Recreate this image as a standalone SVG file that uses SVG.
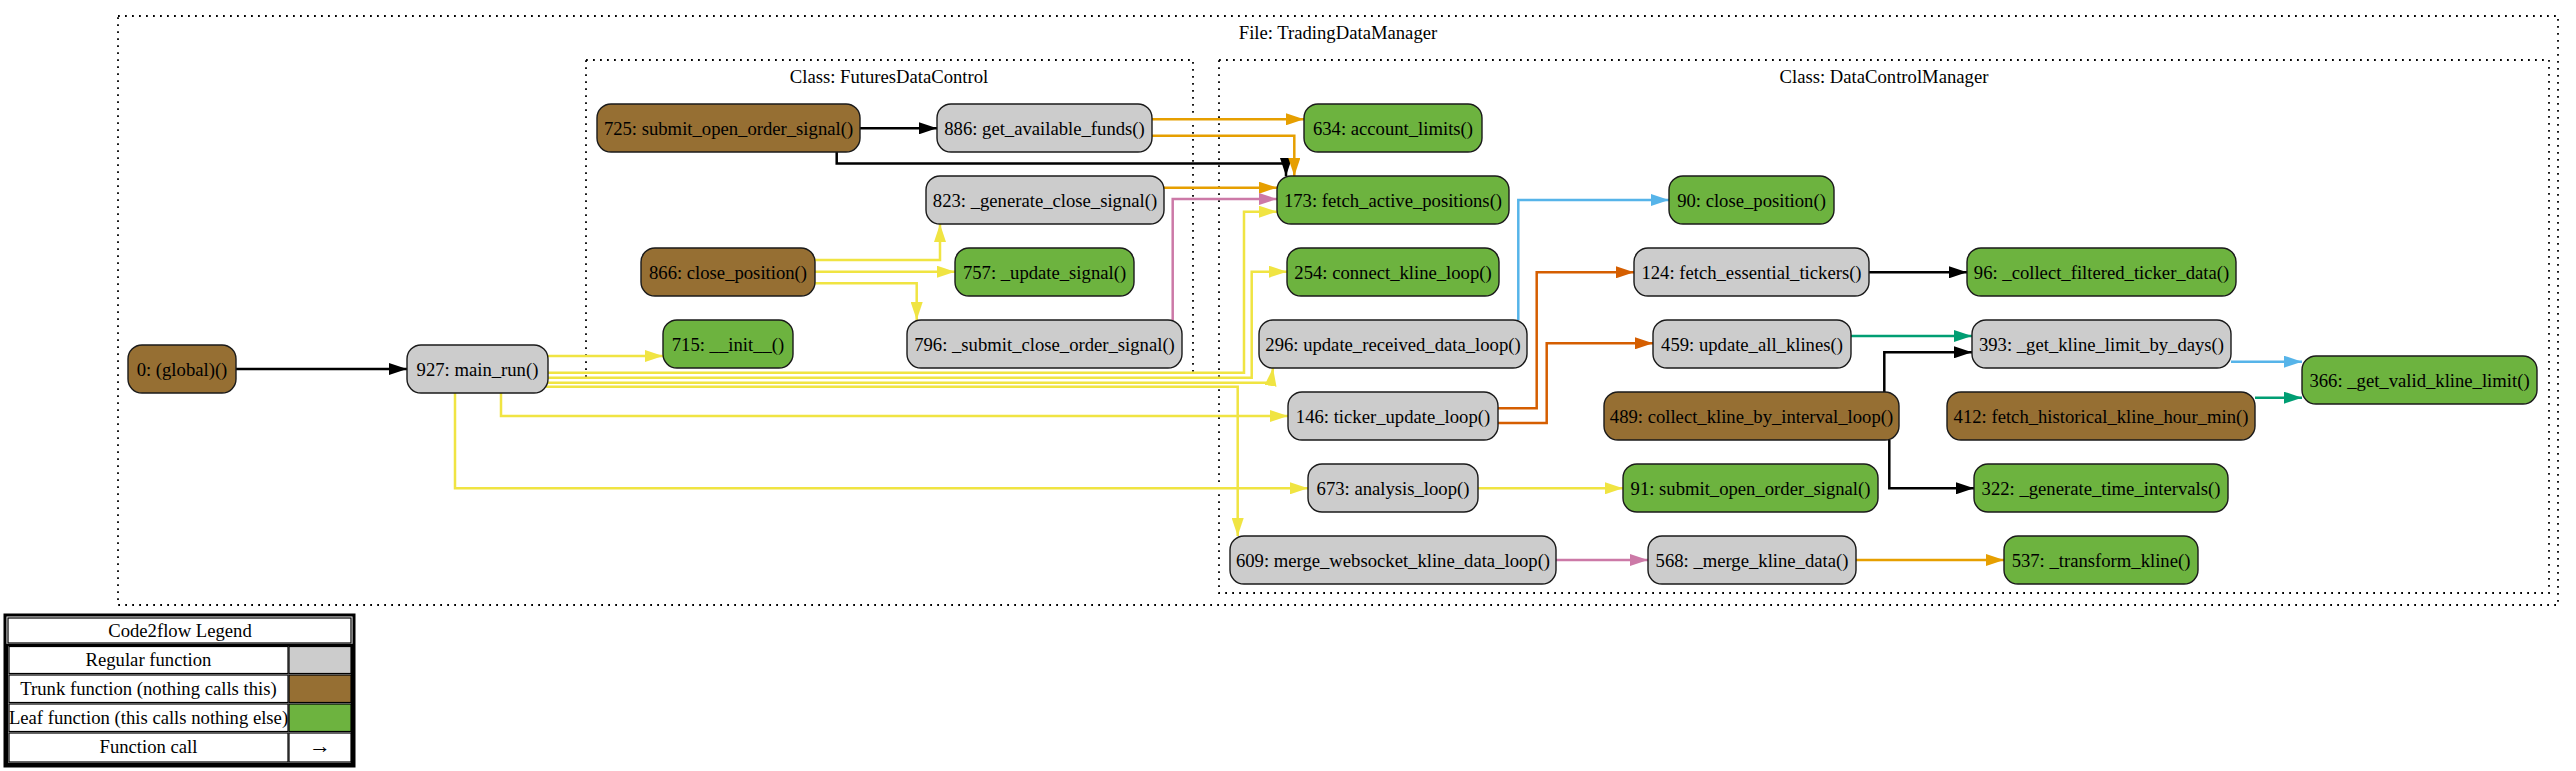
<svg xmlns="http://www.w3.org/2000/svg" width="2576" height="771" viewBox="0 0 2576 771">
<style>
text{font-family:"Liberation Serif","Times New Roman",serif;font-size:18.67px;fill:#000;text-anchor:middle}
.cl{fill:none;stroke:#000;stroke-width:1.8;stroke-dasharray:1.8 5.2}
.nd rect{stroke:#1a1a1a;stroke-width:1.4}
.reg rect{fill:#cccccc}
.trunk rect{fill:#966F33}
.leaf rect{fill:#6db33f}
.e{fill:none;stroke-width:2.5}
.k{stroke:#000;marker-end:url(#mk)}
.o{stroke:#E69F00;marker-end:url(#mo)}
.p{stroke:#CC79A7;marker-end:url(#mp)}
.y{stroke:#F0E442;marker-end:url(#my)}
.b{stroke:#56B4E9;marker-end:url(#mb)}
.t{stroke:#009E73;marker-end:url(#mt)}
.v{stroke:#D55E00;marker-end:url(#mv)}
.lg{fill:#fff;stroke:#000}
</style>
<defs>
<marker id="mk" markerUnits="userSpaceOnUse" markerWidth="18" markerHeight="12" viewBox="0 0 18 12" refX="18" refY="6" orient="auto"><path d="M0,0 L18,6 L0,12 z" fill="#000"/></marker>
<marker id="mo" markerUnits="userSpaceOnUse" markerWidth="18" markerHeight="12" viewBox="0 0 18 12" refX="18" refY="6" orient="auto"><path d="M0,0 L18,6 L0,12 z" fill="#E69F00"/></marker>
<marker id="mp" markerUnits="userSpaceOnUse" markerWidth="18" markerHeight="12" viewBox="0 0 18 12" refX="18" refY="6" orient="auto"><path d="M0,0 L18,6 L0,12 z" fill="#CC79A7"/></marker>
<marker id="my" markerUnits="userSpaceOnUse" markerWidth="18" markerHeight="12" viewBox="0 0 18 12" refX="18" refY="6" orient="auto"><path d="M0,0 L18,6 L0,12 z" fill="#F0E442"/></marker>
<marker id="mb" markerUnits="userSpaceOnUse" markerWidth="18" markerHeight="12" viewBox="0 0 18 12" refX="18" refY="6" orient="auto"><path d="M0,0 L18,6 L0,12 z" fill="#56B4E9"/></marker>
<marker id="mt" markerUnits="userSpaceOnUse" markerWidth="18" markerHeight="12" viewBox="0 0 18 12" refX="18" refY="6" orient="auto"><path d="M0,0 L18,6 L0,12 z" fill="#009E73"/></marker>
<marker id="mv" markerUnits="userSpaceOnUse" markerWidth="18" markerHeight="12" viewBox="0 0 18 12" refX="18" refY="6" orient="auto"><path d="M0,0 L18,6 L0,12 z" fill="#D55E00"/></marker>
</defs>
<rect width="2576" height="771" fill="#fff"/>

<g id="clusters">
<rect class="cl" x="118" y="16" width="2440" height="589"/>
<text x="1338" y="39">File: TradingDataManager</text>
<rect class="cl" x="586" y="60" width="607" height="318"/>
<text x="889" y="83">Class: FuturesDataControl</text>
<rect class="cl" x="1219" y="60" width="1330" height="533"/>
<text x="1884" y="83">Class: DataControlManager</text>
</g>

<g id="connectors">
<path class="e k" d="M236,369 H407"/>
<path class="e k" d="M860,128.3 H937"/>
<path class="e k" d="M836.7,152 V163.5 H1286 V176"/>
<path class="e k" d="M1869,272.3 H1967"/>
<path class="e k" d="M1884.3,392 V352.3 H1972"/>
<path class="e k" d="M1889.3,440 V488.3 H1974"/>
<path class="e o" d="M1152,119.3 H1304"/>
<path class="e o" d="M1152,135.7 H1294.3 V176"/>
<path class="e o" d="M1164,187.7 H1277"/>
<path class="e o" d="M1856,560 H2004"/>
<path class="e p" d="M1172.7,320 V199 H1277"/>
<path class="e p" d="M1556,560 H1648"/>
<path class="e y" d="M548,356 H663"/>
<path class="e y" d="M546,372.7 H1244 V211.7 H1277"/>
<path class="e y" d="M546,377.7 H1251.7 V271.7 H1287"/>
<path class="e y" d="M546,382.7 H1271 L1273,368"/>
<path class="e y" d="M546,386.7 H1237.7 V536"/>
<path class="e y" d="M501,393 V416 H1288"/>
<path class="e y" d="M455,393 V488.3 H1308"/>
<path class="e y" d="M815,260 H940 V224"/>
<path class="e y" d="M815,271.7 H955"/>
<path class="e y" d="M815,283.3 H916.7 V320"/>
<path class="e y" d="M1478,488.3 H1623"/>
<path class="e b" d="M1518.3,320 V200 H1669"/>
<path class="e b" d="M2231,361.7 H2302"/>
<path class="e t" d="M1851,336 H1972"/>
<path class="e t" d="M2255,397.7 H2302"/>
<path class="e v" d="M1498,408.3 H1536.7 V272.3 H1634"/>
<path class="e v" d="M1498,423 H1546.7 V343.3 H1653"/>
</g>

<g id="n0" class="nd trunk"><rect x="128" y="345" width="108" height="48" rx="14"/><text x="182" y="375.5">0: (global)()</text></g>
<g id="n927" class="nd reg"><rect x="407" y="345" width="141" height="48" rx="14"/><text x="477.5" y="375.5">927: main_run()</text></g>
<g id="n725" class="nd trunk"><rect x="597" y="104" width="263" height="48" rx="14"/><text x="728.5" y="134.5">725: submit_open_order_signal()</text></g>
<g id="n886" class="nd reg"><rect x="937" y="104" width="215" height="48" rx="14"/><text x="1044.5" y="134.5">886: get_available_funds()</text></g>
<g id="n823" class="nd reg"><rect x="926" y="176" width="238" height="48" rx="14"/><text x="1045" y="206.5">823: _generate_close_signal()</text></g>
<g id="n866" class="nd trunk"><rect x="641" y="248" width="174" height="48" rx="14"/><text x="728" y="278.5">866: close_position()</text></g>
<g id="n757" class="nd leaf"><rect x="955" y="248" width="179" height="48" rx="14"/><text x="1044.5" y="278.5">757: _update_signal()</text></g>
<g id="n715" class="nd leaf"><rect x="663" y="320" width="130" height="48" rx="14"/><text x="728" y="350.5">715: __init__()</text></g>
<g id="n796" class="nd reg"><rect x="907" y="320" width="275" height="48" rx="14"/><text x="1044.5" y="350.5">796: _submit_close_order_signal()</text></g>
<g id="n634" class="nd leaf"><rect x="1304" y="104" width="178" height="48" rx="14"/><text x="1393" y="134.5">634: account_limits()</text></g>
<g id="n173" class="nd leaf"><rect x="1277" y="176" width="232" height="48" rx="14"/><text x="1393" y="206.5">173: fetch_active_positions()</text></g>
<g id="n90" class="nd leaf"><rect x="1669" y="176" width="165" height="48" rx="14"/><text x="1751.5" y="206.5">90: close_position()</text></g>
<g id="n254" class="nd leaf"><rect x="1287" y="248" width="212" height="48" rx="14"/><text x="1393" y="278.5">254: connect_kline_loop()</text></g>
<g id="n124" class="nd reg"><rect x="1634" y="248" width="235" height="48" rx="14"/><text x="1751.5" y="278.5">124: fetch_essential_tickers()</text></g>
<g id="n96" class="nd leaf"><rect x="1967" y="248" width="269" height="48" rx="14"/><text x="2101.5" y="278.5">96: _collect_filtered_ticker_data()</text></g>
<g id="n296" class="nd reg"><rect x="1259" y="320" width="268" height="48" rx="14"/><text x="1393" y="350.5">296: update_received_data_loop()</text></g>
<g id="n459" class="nd reg"><rect x="1653" y="320" width="198" height="48" rx="14"/><text x="1752" y="350.5">459: update_all_klines()</text></g>
<g id="n393" class="nd reg"><rect x="1972" y="320" width="259" height="48" rx="14"/><text x="2101.5" y="350.5">393: _get_kline_limit_by_days()</text></g>
<g id="n366" class="nd leaf"><rect x="2302" y="356" width="235" height="48" rx="14"/><text x="2419.5" y="386.5">366: _get_valid_kline_limit()</text></g>
<g id="n146" class="nd reg"><rect x="1288" y="392" width="210" height="48" rx="14"/><text x="1393" y="422.5">146: ticker_update_loop()</text></g>
<g id="n489" class="nd trunk"><rect x="1604" y="392" width="295" height="48" rx="14"/><text x="1751.5" y="422.5">489: collect_kline_by_interval_loop()</text></g>
<g id="n412" class="nd trunk"><rect x="1947" y="392" width="308" height="48" rx="14"/><text x="2101" y="422.5">412: fetch_historical_kline_hour_min()</text></g>
<g id="n673" class="nd reg"><rect x="1308" y="464" width="170" height="48" rx="14"/><text x="1393" y="494.5">673: analysis_loop()</text></g>
<g id="n91" class="nd leaf"><rect x="1623" y="464" width="255" height="48" rx="14"/><text x="1750.5" y="494.5">91: submit_open_order_signal()</text></g>
<g id="n322" class="nd leaf"><rect x="1974" y="464" width="254" height="48" rx="14"/><text x="2101" y="494.5">322: _generate_time_intervals()</text></g>
<g id="n609" class="nd reg"><rect x="1230" y="536" width="326" height="48" rx="14"/><text x="1393" y="566.5">609: merge_websocket_kline_data_loop()</text></g>
<g id="n568" class="nd reg"><rect x="1648" y="536" width="208" height="48" rx="14"/><text x="1752" y="566.5">568: _merge_kline_data()</text></g>
<g id="n537" class="nd leaf"><rect x="2004" y="536" width="194" height="48" rx="14"/><text x="2101" y="566.5">537: _transform_kline()</text></g>

<g id="legend">
<rect class="lg" x="5" y="615" width="349" height="151" stroke-width="3"/>
<rect class="lg" x="8" y="618" width="343" height="25" stroke-width="1.2"/>
<text x="180" y="637">Code2flow Legend</text>
<rect class="lg" x="7" y="645" width="345" height="119" stroke-width="2.4"/>
<rect class="lg" x="9" y="646.5" width="279" height="27" stroke-width="1.2"/>
<rect x="289" y="646.5" width="62" height="27" fill="#cccccc" stroke="#000" stroke-width="1.2"/>
<text x="148.5" y="666">Regular function</text>
<rect class="lg" x="9" y="675" width="279" height="27.5" stroke-width="1.2"/>
<rect x="289" y="675" width="62" height="27.5" fill="#966F33" stroke="#000" stroke-width="1.2"/>
<text x="148.5" y="694.5">Trunk function (nothing calls this)</text>
<rect class="lg" x="9" y="704" width="279" height="27.5" stroke-width="1.2"/>
<rect x="289" y="704" width="62" height="27.5" fill="#6db33f" stroke="#000" stroke-width="1.2"/>
<text x="148.5" y="723.5">Leaf function (this calls nothing else)</text>
<rect class="lg" x="9" y="733" width="279" height="29" stroke-width="1.2"/>
<rect class="lg" x="289" y="733" width="62" height="29" stroke-width="1.2"/>
<text x="148.5" y="753">Function call</text>
<text x="320" y="753" style="font-size:22px">→</text>
</g>
</svg>
